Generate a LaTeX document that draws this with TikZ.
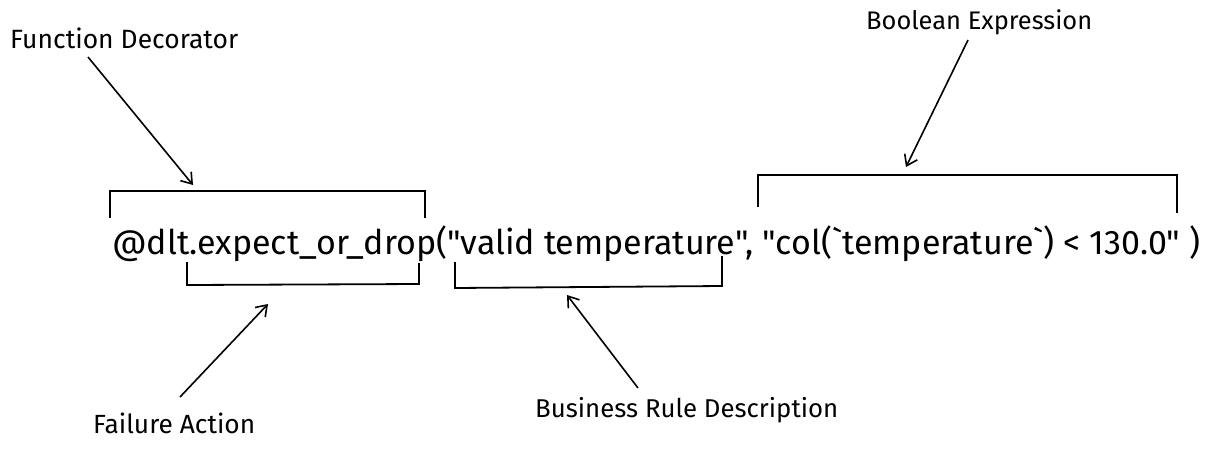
\documentclass[tikz,border=0pt]{standalone}
\usepackage{fontspec}
\setmainfont{Fira Sans}
\newfontfamily\codefont{Fira Sans}
\usetikzlibrary{arrows.meta}
\begin{document}
\begin{tikzpicture}[x=1pt,y=-1pt,
  lbl/.style={inner sep=0pt,anchor=west},
  brk/.style={line width=1.8pt,line join=miter},
  arr/.style={line width=1.6pt,-{Straight Barb[length=10pt,width=14pt,line width=1.6pt]}}]
\useasboundingbox (0,0) rectangle (1210,448);
% labels
\node[lbl] (fd) at (10,38) {\resizebox{228pt}{!}{Function Decorator}};
\node[lbl] (be) at (866,22) {\resizebox{226pt}{!}{Boolean Expression}};
\node[lbl] (fa) at (93,423) {\resizebox{162pt}{!}{Failure Action}};
\node[lbl] (br) at (535,410) {\resizebox{303pt}{!}{Business Rule Description}};
% code line
\node[inner sep=0pt,anchor=west] (code) at (112,244)
  {\resizebox{1088pt}{!}{\codefont\fontsize{30}{34}\selectfont @dlt.expect\_or\_drop("valid temperature", "col(`temperature`) < 130.0" )}};
% brackets
\draw[brk] (110,218) -- (110,191) -- (425,191) -- (425,218);
\draw[brk] (187,262) -- (187,285) -- (419,284) -- (419,263);
\draw[brk] (455,262) -- (455,288) -- (722,286) -- (722,256);
\draw[brk] (758,207) -- (758,175) -- (1177,175) -- (1177,213);
% arrow targets
\coordinate (t1) at (193,185);
\coordinate (t2) at (268,304);
\coordinate (t3) at (567,295);
\coordinate (t4) at (906,167);
\coordinate (s1) at (88,57);
\coordinate (s2) at (180,397);
\coordinate (s3) at (638,388);
\coordinate (s4) at (968,40);
\draw[arr] (s1) -- (t1);
\draw[arr] (s2) -- (t2);
\draw[arr] (s3) -- (t3);
\draw[arr] (s4) -- (t4);
\end{tikzpicture}
\end{document}
